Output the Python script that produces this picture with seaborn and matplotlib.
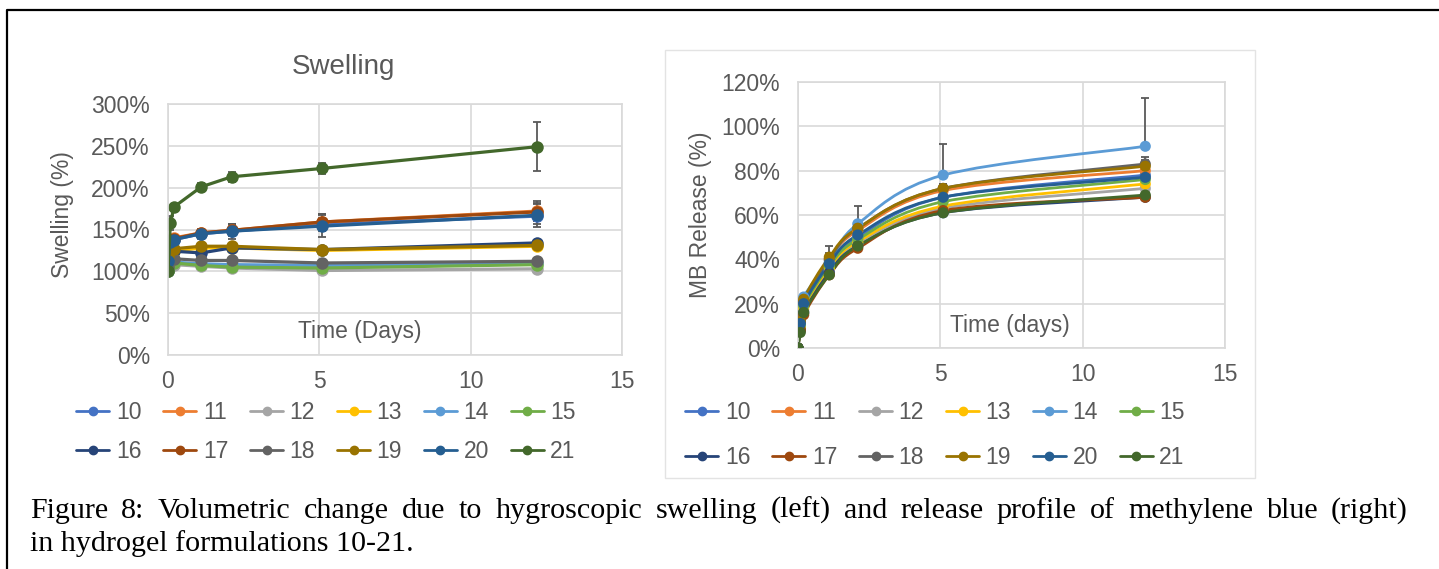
import numpy as np
import pandas as pd
import matplotlib
matplotlib.use('Agg')
import matplotlib.pyplot as plt
import seaborn as sns
from matplotlib.lines import Line2D
from matplotlib.path import Path
from matplotlib.patches import PathPatch, Rectangle
from matplotlib.ticker import FuncFormatter

# formulations and Excel office palette
formulations = ['10', '11', '12', '13', '14', '15', '16', '17', '18', '19', '20', '21']
colors = ['#4472C4', '#ED7D31', '#A5A5A5', '#FFC000', '#5B9BD5', '#70AD47',
          '#264478', '#9E480E', '#636363', '#997300', '#255E91', '#43682B']

time_days = [0, 0.08, 0.2, 1.1, 2.1, 5.1, 12.2]

# swelling (%) per formulation
swell = {
    '10': [115, 133, 138, 145, 148, 156, 166],
    '11': [118, 136, 140, 146, 149, 159, 172],
    '12': [100, 110, 108, 106, 104, 101, 103],
    '13': [115, 122, 124, 128, 128, 125, 130],
    '14': [100, 113, 111, 109, 108, 107, 110],
    '15': [100, 112, 110, 107, 105, 104, 108],
    '16': [112, 122, 124, 122, 128, 126, 134],
    '17': [117, 137, 139, 146, 149, 159, 171],
    '18': [105, 115, 115, 113, 113, 110, 112],
    '19': [118, 125, 127, 130, 130, 126, 131],
    '20': [112, 135, 138, 145, 148, 154, 167],
    '21': [100, 158, 177, 201, 213, 223, 249],
}
swell_err = {
    '10': [2, 4, 4, 5, 6, 8, 10],
    '11': [2, 4, 4, 5, 7, 9, 12],
    '12': [2, 2, 3, 3, 3, 3, 4],
    '13': [2, 3, 3, 3, 3, 3, 4],
    '14': [2, 2, 3, 3, 3, 3, 4],
    '15': [2, 2, 3, 3, 3, 3, 4],
    '16': [2, 3, 3, 3, 3, 3, 4],
    '17': [2, 4, 4, 5, 7, 9, 11],
    '18': [2, 2, 3, 3, 3, 3, 4],
    '19': [2, 3, 3, 3, 3, 3, 4],
    '20': [2, 5, 4, 6, 9, 13, 14],
    '21': [2, 8, 4, 5, 6, 7, 29],
}

# methylene blue release (%) per formulation
release = {
    '10': [0, 11, 20, 38, 50, 68, 78],
    '11': [0, 12, 21, 40, 53, 71, 80],
    '12': [0, 9, 17, 35, 47, 63, 72],
    '13': [0, 9, 18, 36, 48, 64, 74],
    '14': [0, 13, 23, 39, 56, 78, 91],
    '15': [0, 10, 19, 37, 49, 66, 76],
    '16': [0, 8, 16, 34, 46, 61, 68],
    '17': [0, 8, 15, 33, 45, 62, 68],
    '18': [0, 12, 21, 40, 54, 72, 83],
    '19': [0, 12, 22, 41, 54, 72, 82],
    '20': [0, 11, 20, 38, 51, 68, 77],
    '21': [0, 7, 16, 33, 46, 61, 69],
}
release_err = {
    '10': [0, 1, 1, 2, 2, 2, 3],
    '11': [0, 1, 1, 2, 2, 2, 3],
    '12': [0, 1, 1, 2, 2, 2, 3],
    '13': [0, 1, 1, 2, 2, 2, 3],
    '14': [0, 1, 1, 7, 8, 14, 22],
    '15': [0, 1, 1, 2, 2, 2, 3],
    '16': [0, 1, 1, 2, 2, 2, 3],
    '17': [0, 1, 1, 2, 2, 2, 3],
    '18': [0, 1, 1, 2, 2, 2, 3],
    '19': [0, 1, 1, 2, 2, 2, 3],
    '20': [0, 1, 1, 2, 2, 2, 3],
    '21': [0, 1, 1, 2, 2, 2, 3],
}

caption_1 = 'Figure 8: Volumetric change due to hygroscopic swelling (left) and release profile of methylene blue (right)'
caption_2 = 'in hydrogel formulations 10-21.'

W, H = 1439, 569
TXT = '#595959'
GRID = '#D9D9D9'
ERR = '#595959'
FS = 16.5

sns.set_theme(style='white')
plt.rcParams['font.family'] = ['Liberation Sans', 'DejaVu Sans']

palette = dict(zip(formulations, colors))


def long_df(values):
    rows = []
    for f in formulations:
        for t, v in zip(time_days, values[f]):
            rows.append({'formulation': f, 'time': t, 'value': v})
    return pd.DataFrame(rows)


def px_axes(fig, x0, x1, ytop, ybot):
    return fig.add_axes([x0 / W, 1 - ybot / H, (x1 - x0) / W, (ybot - ytop) / H])


def style_axes(ax, ymax, ystep):
    ax.set_xlim(0, 15)
    ax.set_ylim(0, ymax)
    ax.set_xticks([0, 5, 10, 15])
    ax.set_yticks(np.arange(0, ymax + 1, ystep))
    ax.yaxis.set_major_formatter(FuncFormatter(lambda v, p: f'{v:.0f}%'))
    ax.grid(True, color=GRID, lw=1.2)
    ax.set_axisbelow(True)
    for s in ax.spines.values():
        s.set_color(GRID)
        s.set_linewidth(1.2)
    ax.tick_params(length=0, labelsize=FS, labelcolor=TXT, pad=11)
    ax.tick_params(axis='y', pad=13)
    ax.set_xlabel('')
    ax.set_ylabel('')


def smooth_path(x, y):
    # Excel style smoothed line: Catmull-Rom converted to cubic Bezier
    pts = np.column_stack([x, y]).astype(float)
    n = len(pts)
    verts = [pts[0]]
    codes = [Path.MOVETO]
    for i in range(n - 1):
        p0 = pts[max(i - 1, 0)]
        p1 = pts[i]
        p2 = pts[i + 1]
        p3 = pts[min(i + 2, n - 1)]
        c1 = p1 + (p2 - p0) / 6.0
        c2 = p2 - (p3 - p1) / 6.0
        verts += [c1, c2, p2]
        codes += [Path.CURVE4] * 3
    return Path(verts, codes)


fig = plt.figure(figsize=(W / 100, H / 100), dpi=100)

# ---------- left: swelling ----------
ax1 = px_axes(fig, 168, 622, 104, 355)
df_s = long_df(swell)
sns.lineplot(data=df_s, x='time', y='value', hue='formulation', hue_order=formulations,
             palette=palette, marker='o', markersize=9, markeredgewidth=0, linewidth=2.3,
             estimator=None, sort=False, legend=False, ax=ax1)
for f in formulations:
    ax1.errorbar(time_days, swell[f], yerr=swell_err[f], fmt='none', ecolor=ERR,
                 elinewidth=1.3, capsize=3, capthick=1.3, zorder=1.5)
style_axes(ax1, 300, 50)
ax1.text(0.423, 0.092, 'Time (Days)', transform=ax1.transAxes, ha='center', va='center',
         fontsize=FS, color=TXT)
fig.text(343 / W, 1 - 67 / H, 'Swelling', ha='center', va='center', fontsize=20, color=TXT)
fig.text(62 / W, 1 - 215 / H, 'Swelling (%)', ha='center', va='center', rotation=90,
         fontsize=FS, color=TXT)

# ---------- right: MB release ----------
ax2 = px_axes(fig, 798, 1225, 82, 348)
df_r = long_df(release)
for f in formulations:
    ax2.errorbar(time_days, release[f], yerr=[np.zeros(len(time_days)), release_err[f]],
                 fmt='none', ecolor=ERR, elinewidth=1.3, capsize=3, capthick=1.3, zorder=1.5)
    ax2.add_patch(PathPatch(smooth_path(time_days, release[f]), facecolor='none',
                            edgecolor=palette[f], lw=2.0, zorder=2))
sns.scatterplot(data=df_r, x='time', y='value', hue='formulation', hue_order=formulations,
                palette=palette, s=64, linewidth=0, legend=False, ax=ax2, zorder=3)
style_axes(ax2, 120, 20)
ax2.text(0.496, 0.086, 'Time (days)', transform=ax2.transAxes, ha='center', va='center',
         fontsize=FS, color=TXT)
fig.text(700 / W, 1 - 215 / H, 'MB Release (%)', ha='center', va='center', rotation=90,
         fontsize=FS, color=TXT)

# right chart area border
fig.add_artist(Rectangle((665 / W, 1 - 478 / H), (1255 - 665) / W, (478 - 50) / H,
                         transform=fig.transFigure, facecolor='none', edgecolor='#E3E3E3', lw=1))

# ---------- legends (rows 10-15 / 16-21) ----------
order = [0, 6, 1, 7, 2, 8, 3, 9, 4, 10, 5, 11]


def make_legend(center, spacing):
    handles = [Line2D([], [], color=colors[i], marker='o', markersize=6, lw=2) for i in order]
    labels = [formulations[i] for i in order]
    fig.legend(handles, labels, ncol=6, loc='center', bbox_to_anchor=center, frameon=False,
               fontsize=FS, labelcolor=TXT, handlelength=1.45, handletextpad=0.28,
               columnspacing=0.95, labelspacing=spacing, borderpad=0)


make_legend((326 / W, 1 - 432 / H), 0.7)
make_legend((935 / W, 1 - 435 / H), 1.0)

# ---------- document frame and caption ----------
fig.add_artist(Line2D([7 / W, 7 / W, 1.0], [0.0, 1 - 10 / H, 1 - 10 / H],
                      transform=fig.transFigure, color='black', lw=1.6))
cap_font = ['Liberation Serif', 'DejaVu Serif']
CAP_FS = 21.6

# first caption line is justified across the text block (Word layout)
renderer = fig.canvas.get_renderer()
words = caption_1.split(' ')
word_texts = [fig.text(0, 1 - 518 / H, w, ha='left', va='baseline', fontsize=CAP_FS,
                       family=cap_font, color='black') for w in words]
widths = [t.get_window_extent(renderer).width for t in word_texts]
x_start, x_end = 30.0, 1408.0
gap = (x_end - x_start - sum(widths)) / (len(words) - 1)
x = x_start
for t, w in zip(word_texts, widths):
    t.set_x(x / W)
    x += w + gap
fig.text(30 / W, 1 - 551 / H, caption_2, ha='left', va='baseline', fontsize=CAP_FS,
         family=cap_font, color='black')

fig.savefig('out.png', dpi=100, facecolor='white')
